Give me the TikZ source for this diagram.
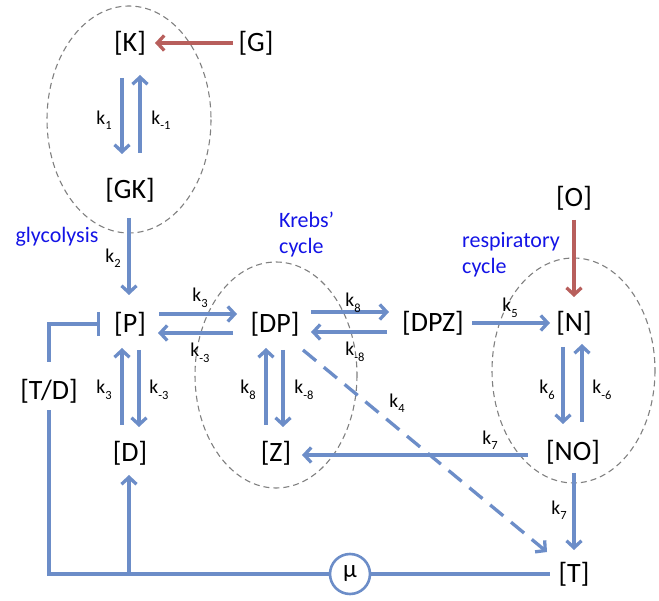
\documentclass[tikz,border=0pt]{standalone}
\usepackage{fontspec}
\setmainfont{Carlito}
\usetikzlibrary{arrows.meta}
\definecolor{lb}{HTML}{6C8DC8}
\definecolor{rd}{HTML}{B85F5C}
\definecolor{bt}{HTML}{1414E6}
\newcommand{\ksub}[1]{k\raisebox{-0.28em}{\fontsize{12.5}{13}\selectfont #1}}
\tikzset{
  sp/.style={font=\fontsize{28}{32}\selectfont, inner sep=0pt},
  lab/.style={font=\fontsize{19.5}{22}\selectfont, inner sep=0pt},
  blab/.style={font=\fontsize{22}{26}\selectfont, text=bt, inner sep=0pt, align=left},
  arr/.style={draw=lb, line width=3.3pt, -{Straight Barb[length=7pt,width=15pt]}},
  rarr/.style={draw=rd, line width=3.3pt, -{Straight Barb[length=7pt,width=15pt]}},
  ln/.style={draw=lb, line width=3.3pt},
  cyc/.style={draw=gray, line width=1.1pt, dash pattern=on 6pt off 4pt},
}
\begin{document}
\begin{tikzpicture}[x=1pt,y=-1pt]
\useasboundingbox (0,0) rectangle (659,601);
% cycles
\draw[cyc] (129,119.5) ellipse [x radius=82, y radius=113.5];
\draw[cyc] (276,375) ellipse [x radius=81, y radius=113];
\draw[cyc] (573.5,370.5) ellipse [x radius=81.5, y radius=112.5];
% species
\node[sp] (K) at (130,43) {[K]};
\node[sp] (G) at (256,43) {[G]};
\node[sp] (GK) at (130,190) {[GK]};
\node[sp] (P) at (130,324) {[P]};
\node[sp] (D) at (130,453) {[D]};
\node[sp] (DP) at (275,324) {[DP]};
\node[sp] (Z) at (276,453) {[Z]};
\node[sp] (DPZ) at (433,323) {[DPZ]};
\node[sp] (O) at (574,198) {[O]};
\node[sp] (N) at (574,323) {[N]};
\node[sp] (NO) at (573,452) {[NO]};
\node[sp] (T) at (574,574) {[T]};
\node[sp] (TD) at (49,391) {[T/D]};
\node[draw=lb, line width=2.6pt, circle, minimum size=40pt, inner sep=0pt, font=\fontsize{25}{26}\selectfont] (mu) at (350,574) {μ};
\coordinate (bl) at (49,574);
\coordinate (jn) at (129,574);
% blue labels
\node[blab] (gly) at (57,237) {glycolysis};
\node[blab, anchor=west] (kre) at (279,235) {Krebs'\\cycle};
\node[blab, anchor=west] (res) at (462,255) {respiratory\\cycle};
% arrows
\draw[rarr] ([shift={(-23,0)}]G.center) -- ([shift={(25,0)}]K.center);
\draw[rarr] ([shift={(0,22)}]O.center) -- ([shift={(0,-26)}]N.center);
\draw[arr] ([shift={(-8,35)}]K.center) -- ([shift={(-8,-36)}]GK.center);
\draw[arr] ([shift={(10,-37)}]GK.center) -- ([shift={(10,32)}]K.center);
\draw[arr] ([shift={(-1,28)}]GK.center) -- ([shift={(-1,-29)}]P.center);
\draw[arr] ([shift={(9,26)}]P.center) -- ([shift={(9,-26)}]D.center);
\draw[arr] ([shift={(-8,-28)}]D.center) -- ([shift={(-8,24)}]P.center);
\draw[arr] ([shift={(29,-10)}]P.center) -- ([shift={(-38,-10)}]DP.center);
\draw[arr] ([shift={(-42,9)}]DP.center) -- ([shift={(28,9)}]P.center);
\draw[arr] ([shift={(-10,-28)}]Z.center) -- ([shift={(-9,24)}]DP.center);
\draw[arr] ([shift={(8,26)}]DP.center) -- ([shift={(7,-26)}]Z.center);
\draw[arr] ([shift={(36,-12)}]DP.center) -- ([shift={(-44,-11)}]DPZ.center);
\draw[arr] ([shift={(-46,9)}]DPZ.center) -- ([shift={(36,8)}]DP.center);
\draw[arr] ([shift={(39,0)}]DPZ.center) -- ([shift={(-24,0)}]N.center);
\draw[arr] ([shift={(-11,24)}]N.center) -- ([shift={(-10,-28)}]NO.center);
\draw[arr] ([shift={(9,-30)}]NO.center) -- ([shift={(8,21)}]N.center);
\draw[arr] ([shift={(-45,3)}]NO.center) -- ([shift={(26,2)}]Z.center);
\draw[arr] ([shift={(1,21)}]NO.center) -- ([shift={(0,-24)}]T.center);
\draw[arr, dash pattern=on 17pt off 10pt] ([shift={(28,26)}]DP.center) -- ([shift={(-27,-22)}]T.center);
% feedback lines
\draw[ln] (mu) -- ([shift={(-24,0)}]T.center);
\draw[ln] (mu) -- (bl) -- ([shift={(0,19)}]TD.center);
\draw[arr] (jn) -- ([shift={(-1,22)}]D.center);
\draw[ln, -{Bar[width=24pt]}] ([shift={(0,-29)}]TD.center) |- ([shift={(-30,0)}]P.center);
% rate labels
\node[lab] (l1) at (104,120) {\ksub{1}};
\node[lab] (l1m) at (161,120) {\ksub{-1}};
\node[lab] (l2) at (113,258) {\ksub{2}};
\node[lab] (l3a) at (200,298) {\ksub{3}};
\node[lab] (l3ma) at (200,353) {\ksub{-3}};
\node[lab] (l3b) at (104,390) {\ksub{3}};
\node[lab] (l3mb) at (159,390) {\ksub{-3}};
\node[lab] (l8a) at (248,390) {\ksub{8}};
\node[lab] (l8ma) at (304,390) {\ksub{-8}};
\node[lab] (l8b) at (353,303) {\ksub{8}};
\node[lab] (l8mb) at (355,352) {\ksub{-8}};
\node[lab] (l5) at (510,308) {\ksub{5}};
\node[lab] (l4) at (397,403) {\ksub{4}};
\node[lab] (l6) at (547,390) {\ksub{6}};
\node[lab] (l6m) at (602,390) {\ksub{-6}};
\node[lab] (l7a) at (490,440) {\ksub{7}};
\node[lab] (l7b) at (559,510) {\ksub{7}};
\end{tikzpicture}
\end{document}
